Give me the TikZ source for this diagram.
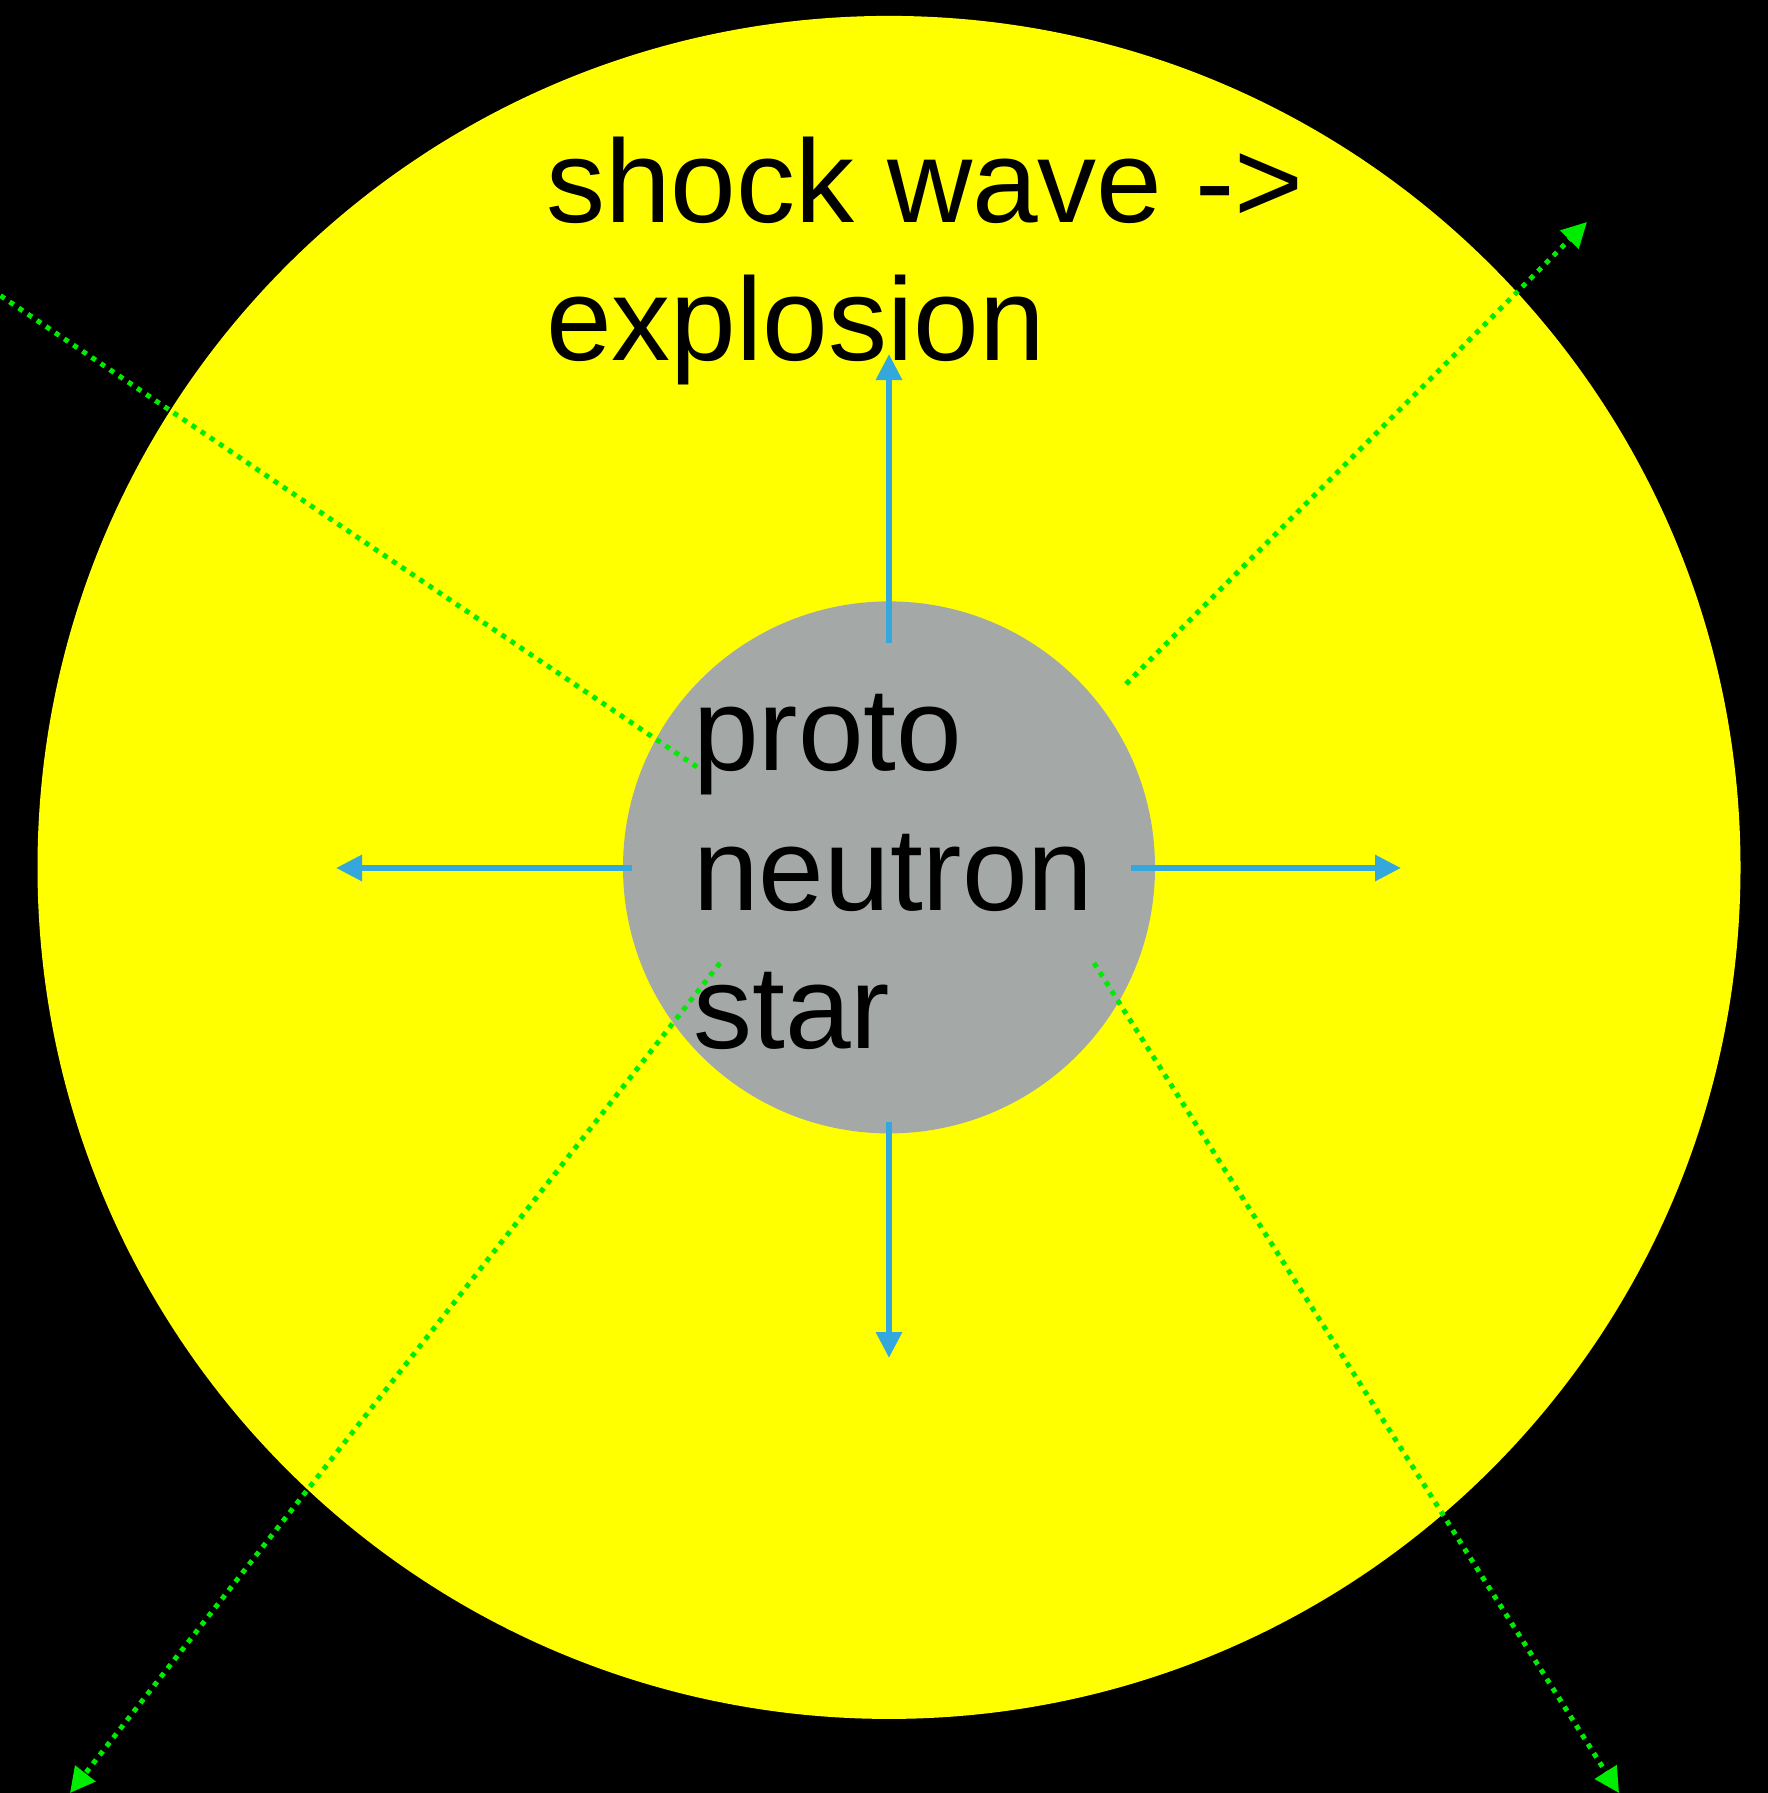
\documentclass[tikz,border=0pt]{standalone}
\usepackage{fontspec}
\setmainfont{Liberation Sans}
\usetikzlibrary{arrows.meta}
\definecolor{shellyellow}{RGB}{255,255,0}
\definecolor{coregray}{RGB}{164,168,166}
\definecolor{flowblue}{RGB}{52,167,220}
\definecolor{nugreen}{RGB}{0,236,0}
\begin{document}
\begin{tikzpicture}[x=1pt,y=-1pt,
  bigtext/.style={anchor=base west, inner sep=0pt, font=\fontsize{118}{138}\selectfont},
  flow/.style={draw=flowblue, line width=6pt, -{Triangle[length=26pt,width=25pt]}},
  neutrino/.style={draw=nugreen, line width=5pt, dash pattern=on 5pt off 6pt, -{Triangle[length=25pt,width=25pt]}}]
\useasboundingbox (0,0) rectangle (1768,1793);
\clip (0,0) rectangle (1768,1793);
\fill[black] (0,0) rectangle (1768,1793);
\node[circle, fill=shellyellow, inner sep=0pt, minimum size=1703pt] (shell) at (889,867.4) {};
\node[circle, fill=coregray, inner sep=0pt, minimum size=532pt] (core) at (889,867.4) {};
% neutrino lines
\coordinate (tlS) at (697,767);  \coordinate (tlE) at (-2,294);
\coordinate (trS) at (1126,684); \coordinate (trE) at (1587,222);
\coordinate (blS) at (720,963);  \coordinate (blE) at (70,1793);
\coordinate (brS) at (1094,963); \coordinate (brE) at (1619,1793);
\draw[neutrino, -] (tlS) -- (tlE);
\draw[neutrino] (trS) -- (trE);
\draw[neutrino] (blS) -- (blE);
\draw[neutrino] (brS) -- (brE);
% texts
\node[bigtext] (l1) at (546,222) {shock wave ->};
\node[bigtext] (l2) at (546,360) {explosion};
\node[bigtext] (p1) at (693,770) {proto};
\node[bigtext] (p2) at (693,910) {neutron};
\node[bigtext] (p3) at (693,1048) {star};
% shock flow arrows
\coordinate (upS) at (889,643);   \coordinate (upE) at (889,354);
\coordinate (dnS) at (889,1122);  \coordinate (dnE) at (889,1358);
\coordinate (lfS) at (632,868);   \coordinate (lfE) at (336,868);
\coordinate (rtS) at (1131,868);  \coordinate (rtE) at (1401,868);
\draw[flow] (upS) -- (upE);
\draw[flow] (dnS) -- (dnE);
\draw[flow] (lfS) -- (lfE);
\draw[flow] (rtS) -- (rtE);
\end{tikzpicture}
\end{document}
